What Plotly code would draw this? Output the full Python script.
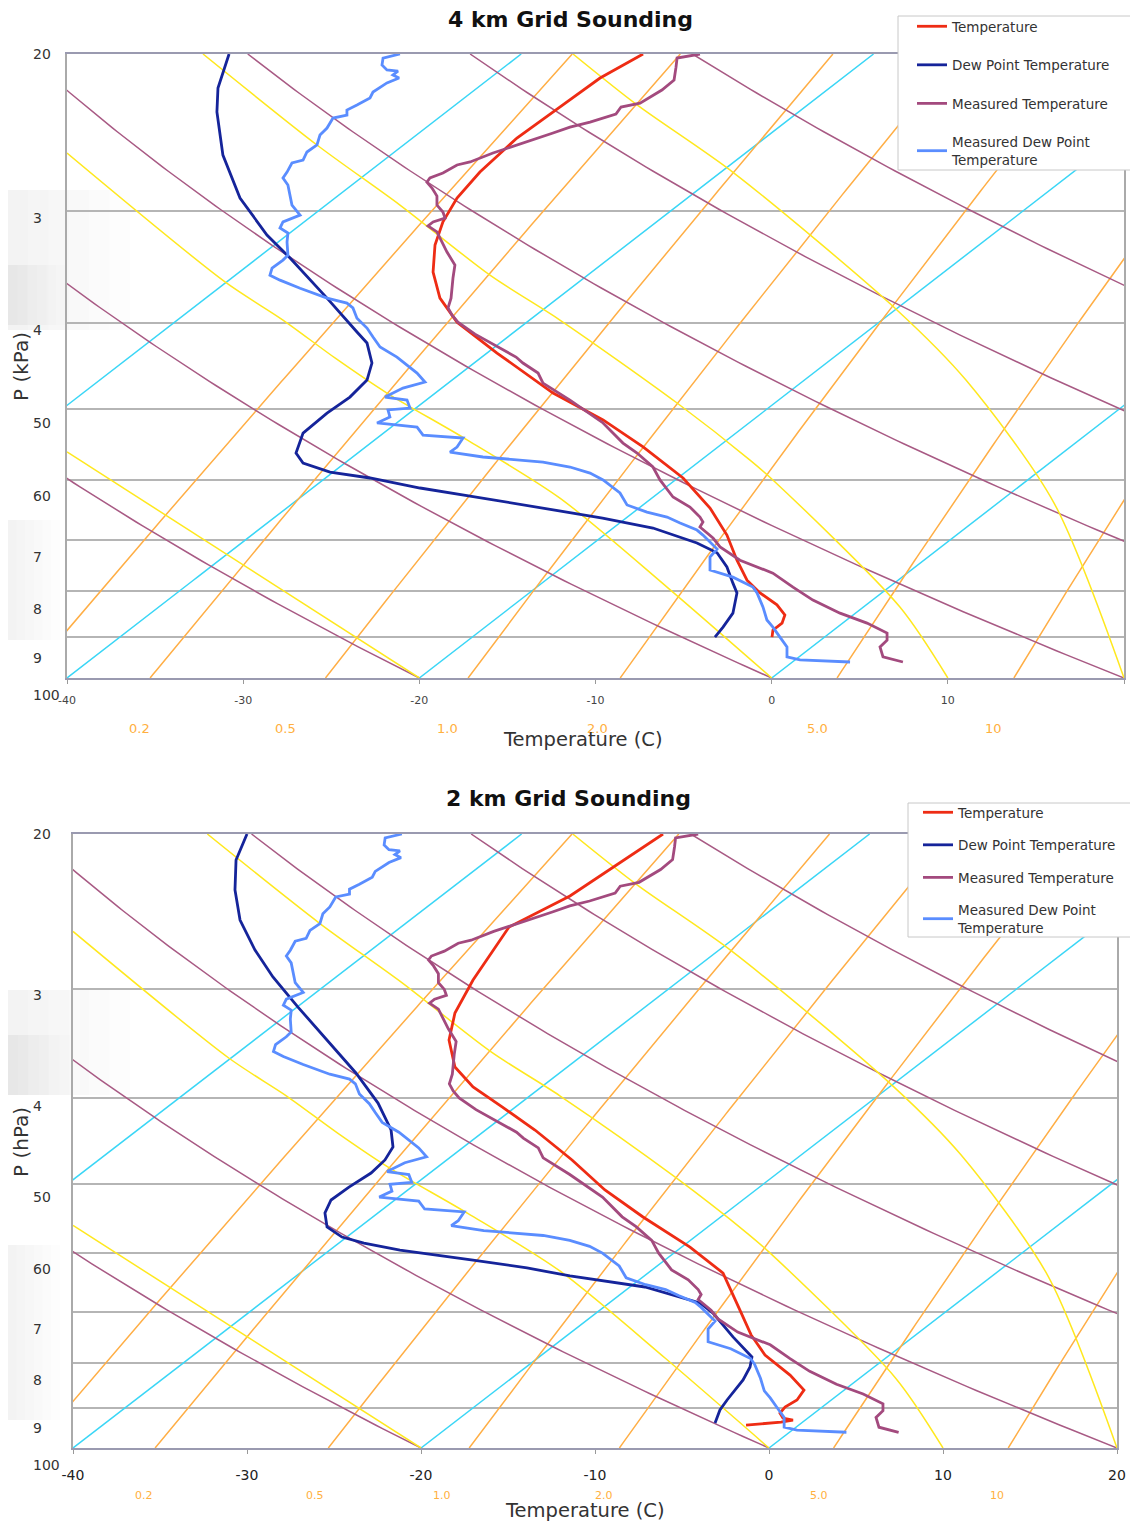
import numpy as np
import plotly.graph_objects as go

# ------------------------------------------------------------------
# DATA (x = skewed temperature as read on the chart's x axis, p in kPa)
# ------------------------------------------------------------------
# 4 km grid model
P_T4 = [20.0, 21.28, 22.81, 24.84, 27.12, 29.0, 30.84, 32.73, 35.1, 37.54, 39.94, 43.25,
        47.95, 51.4, 55.1, 59.7, 64.5, 69.17, 73.8, 77.7, 80.3, 82.8, 85.0, 86.8, 88.4, 90.0]
T4 = [-7.30, -9.74, -11.85, -14.46, -16.56, -17.86, -18.66, -19.11, -19.22, -18.83, -17.86, -15.59,
      -12.41, -9.57, -7.30, -5.03, -3.50, -2.54, -1.97, -1.40, -0.66, 0.30, 0.75, 0.59, 0.07, 0.02]
P_TD4 = [20.0, 21.83, 23.23, 25.96, 29.0, 31.9, 33.85, 37.54, 40.97, 42.15, 44.38, 46.37, 48.45,
         50.5, 53.17, 55.98, 57.44, 58.79, 59.7, 61.26, 62.54, 64.34, 66.2, 67.92, 70.6, 72.4,
         75.1, 78.3, 80.3, 84.6, 87.7, 90.0]
TD4 = [-30.8, -31.43, -31.49, -31.15, -30.18, -28.65, -27.34, -25.24, -23.54, -22.97, -22.69,
       -22.97, -23.94, -25.24, -26.6, -27.0, -26.6, -25.07, -22.8, -19.96, -17.12, -13.32, -9.6,
       -6.74, -4.24, -3.1, -2.54, -2.2, -1.97, -2.2, -2.76, -3.22]

# 2 km grid model
P_T2 = [20.0, 21.81, 23.53, 25.52, 29.33, 31.98, 34.32, 36.84, 38.82, 40.9, 43.45, 45.43, 47.0,
        50.85, 54.58, 59.06, 63.22, 69.66, 74.35, 78.36, 82.6, 85.9, 88.17, 89.81, 91.26, 92.46,
        92.95, 93.44, 94.18]
T2 = [-6.09, -8.91, -11.44, -14.94, -17.01, -18.05, -18.39, -18.05, -17.01, -15.34, -13.45, -12.24,
      -11.32, -9.43, -7.24, -4.54, -2.64, -1.67, -1.03, -0.23, 1.21, 2.01, 1.61, 0.92, 0.63, 0.80,
      1.38, 0.69, -1.32]
P_TD2 = [20.0, 21.41, 23.16, 25.06, 27.11, 29.09, 31.48, 34.32, 37.42, 40.49, 43.45, 45.43, 47.0,
         48.64, 50.46, 52.2, 54.0, 56.03, 57.53, 58.44, 59.52, 61.1, 62.37, 63.7, 65.57, 68.38,
         70.2, 74.74, 78.77, 80.86, 83.66, 88.17, 90.51, 93.68]
TD2 = [-30.0, -30.63, -30.69, -30.40, -29.54, -28.51, -27.07, -25.40, -23.74, -22.47, -21.72,
       -21.61, -22.07, -22.87, -24.14, -25.17, -25.52, -25.40, -24.54, -23.28, -21.21, -17.01,
       -13.91, -11.44, -7.13, -3.97, -3.22, -2.07, -0.98, -1.09, -1.49, -2.41, -2.82, -3.10]

# measured sounding (same in both charts)
P_MT = [20.0, 20.21, 20.69, 21.39, 21.95, 22.70, 22.93, 23.35, 23.84, 24.15, 24.52, 25.29, 25.82,
        26.42, 26.63, 27.19, 27.54, 27.83, 28.26, 28.85, 29.53, 30.06, 30.53, 30.84, 31.16, 31.65,
        32.15, 33.33, 34.46, 35.64, 37.54, 38.5, 39.21, 39.94, 41.19, 42.92, 43.70, 44.38, 45.54,
        46.74, 48.83, 51.8, 54.56, 55.98, 58.03, 60.0, 62.70, 64.34, 66.02, 66.88, 67.75, 69.7,
        71.3, 73.8, 76.3, 79.1, 81.8, 84.6, 86.8, 89.06, 90.7, 92.3, 94.7, 95.96]
MT = [-4.07, -5.37, -5.43, -5.54, -6.23, -7.47, -8.55, -8.84, -10.31, -11.45, -12.41, -14.46,
      -15.82, -17.12, -17.86, -18.66, -19.40, -19.57, -19.28, -19.00, -19.00, -18.66, -18.54,
      -19.22, -19.51, -19.00, -18.83, -18.43, -17.98, -18.09, -18.20, -18.37, -18.15, -17.81,
      -16.84, -15.25, -14.51, -14.12, -13.26, -12.98, -11.45, -9.57, -8.44, -7.64, -6.74, -6.34,
      -5.60, -4.64, -4.07, -3.90, -4.07, -3.33, -2.93, -1.80, 0.07, 1.21, 2.34, 3.88, 5.41, 6.55,
      6.55, 6.15, 6.32, 7.45]
P_MTD = [20.0, 20.21, 20.58, 20.84, 20.90, 21.11, 21.28, 21.55, 22.06, 22.40, 22.81, 23.11, 23.41,
         23.59, 24.21, 24.65, 25.29, 25.75, 26.29, 26.49, 27.12, 27.54, 28.04, 28.77, 29.53, 30.30,
         30.84, 31.33, 31.74, 32.48, 33.6, 34.03, 34.74, 35.38, 35.84, 36.59, 37.54, 38.02, 38.5,
         39.53, 40.55, 41.50, 42.59, 43.70, 44.84, 45.54, 46.61, 47.34, 48.45, 48.83, 49.84, 50.09,
         51.0, 51.8, 52.36, 53.45, 53.86, 55.12, 55.84, 56.55, 57.29, 58.03, 58.94, 60.0, 62.05,
         64.0, 65.18, 66.02, 67.06, 68.28, 69.17, 71.7, 73.2, 75.7, 77.1, 79.1, 80.3, 83.3, 86.1,
         87.7, 90.0, 92.3, 94.7, 95.45, 95.96]
MTD = [-21.10, -22.06, -22.12, -21.84, -21.21, -21.50, -21.15, -21.84, -22.63, -22.80, -23.54,
       -24.11, -24.11, -24.90, -25.24, -25.64, -25.81, -26.38, -26.60, -27.23, -27.51, -27.74,
       -27.46, -27.34, -27.23, -26.77, -27.74, -27.91, -27.46, -27.51, -27.46, -27.74, -28.36,
       -28.48, -27.91, -26.77, -25.24, -24.11, -23.77, -23.54, -22.97, -22.63, -22.23, -21.27,
       -20.53, -20.13, -19.68, -20.93, -21.95, -20.70, -20.53, -21.78, -21.67, -22.40, -20.13,
       -19.79, -17.52, -17.86, -18.26, -16.39, -12.98, -11.45, -10.31, -9.57, -8.61, -8.21, -7.08,
       -5.94, -5.20, -4.24, -3.90, -3.10, -3.50, -3.50, -2.20, -1.06, -0.83, -0.49, -0.27, 0.07,
       0.47, 0.87, 0.87, 1.61, 4.45]

# background diagram parameters
SKEW = 65.5                                   # x shift per decade of pressure
ISOTHERMS = [-60, -40, -20, 0]                # deg C
DRY_ADIABAT_BASES = [-20, 0, 20, 40, 60, 80]  # deg C at 100 kPa
MIXING_RATIOS = [0.1, 0.2, 0.5, 1.0, 2.0, 5.0, 10.0]  # g/kg
MIXING_LABELS = ["0.2", "0.5", "1.0", "2.0", "5.0", "10"]
# moist adiabats
MOIST_P = {
    -20: [55.8, 100.0],
    0: [25.82, 36.0, 39.72, 43.8, 47.95, 54.1, 62.87, 79.1, 100.0],
    10: [20.0, 25.29, 29.53, 35.38, 39.72, 49.2, 57.0, 60.0, 83.27, 100.0],
    20: [20.0, 22.81, 27.19, 38.7, 46.37, 63.68, 100.0],
}
MOIST_X = {
    -20: [-40.0, -20.0],
    0: [-40.0, -31.03, -27.74, -24.79, -21.84, -17.29, -12.02, -5.94, 0.0],
    10: [-32.28, -25.81, -21.10, -15.99, -12.02, -5.37, -1.23, 0.07, 7.28, 10.0],
    20: [-11.28, -7.64, -2.14, 7.11, 11.03, 16.03, 20.0],
}

X_TICKS = [-40, -30, -20, -10, 0, 10, 20]
X_TICK_TEXT = ["-40", "-30", "-20", "-10", "0", "10", "20"]
GRID_P = [30, 40, 50, 60, 70, 80, 90]
Y_LABELS = ["20", "3", "4", "50", "60", "7", "8", "9", "100"]
Y_LABEL_P = [20.0, 30.5, 40.8, 51.8, 62.5, 73.2, 83.7, 95.0, 104.5]

# ------------------------------------------------------------------
W, H = 1122, 1513
OFF = 8
FONT = "DejaVu Sans"


def fx(x):
    return (x - OFF) / W


def fy(y):
    return 1 - (y - OFF) / H


PANELS = [
    dict(x0=67, x1=1124, y0=54, y1=678, xa="x", ya="y", lg="legend",
         title="4 km Grid Sounding", title_x=570, title_y=20, ytitle="P (kPa)", ytitle_y=367,
         xtitle_x=583, xtitle_y=740, mix_y=729, tick_size=11, tick_color="#444", standoff=7,
         mix_size=13, mix_x=[-35.9, -27.6, -18.4, -9.9, 2.6, 12.6],
         T=(P_T4, T4), TD=(P_TD4, TD4),
         box=(898, 16, 1132, 170), leg_x=912, leg_y=11, gap=18.0),
    dict(x0=73, x1=1117, y0=834, y1=1448, xa="x2", ya="y2", lg="legend2",
         title="2 km Grid Sounding", title_x=568, title_y=798, ytitle="P (hPa)", ytitle_y=1142,
         xtitle_x=585, xtitle_y=1510, mix_y=1495, tick_size=14, tick_color="#222", standoff=9,
         mix_size=11, mix_x=[-35.9, -26.1, -18.8, -9.5, 2.9, 13.1],
         T=(P_T2, T2), TD=(P_TD2, TD2),
         box=(908, 803, 1132, 937), leg_x=918, leg_y=797, gap=12.0),
]

P_GRID = np.logspace(np.log10(20.0), 2.0, 161)
SK = SKEW * np.log10(100.0 / P_GRID)

C_ISO, C_DRY, C_MIX, C_MOIST = "#3AD6F6", "#A85A84", "#FFAE45", "#FFE81E"
LW = 1.5

fig = go.Figure()
annotations = []
shapes = []

for i, pn in enumerate(PANELS):
    xa, ya = pn["xa"], pn["ya"]
    bg = dict(xaxis=xa, yaxis=ya, mode="lines", showlegend=False, hoverinfo="skip")
    for t in ISOTHERMS:
        fig.add_trace(go.Scatter(x=t + SK, y=P_GRID, line=dict(color=C_ISO, width=LW), **bg))
    for w in MIXING_RATIOS:
        e = w * P_GRID * 10.0 / (622.0 + w)
        tk = 1.0 / (1.0 / 273.15 - np.log(e / 6.11) / 5423.0) - 273.15
        fig.add_trace(go.Scatter(x=tk + SK, y=P_GRID, line=dict(color=C_MIX, width=LW), **bg))
    for tb in DRY_ADIABAT_BASES:
        tk = (tb + 273.15) * (P_GRID / 100.0) ** 0.286 - 273.15
        fig.add_trace(go.Scatter(x=tk + SK, y=P_GRID, line=dict(color=C_DRY, width=LW), **bg))
    for k in MOIST_P:
        fig.add_trace(go.Scatter(x=MOIST_X[k], y=MOIST_P[k], line=dict(color=C_MOIST, width=LW,
                                 shape="spline", smoothing=0.8), **bg))

    series = [
        ("Temperature", pn["T"], "#EE2C14"),
        ("Dew Point Temperature", pn["TD"], "#15249A"),
        ("Measured Temperature", (P_MT, MT), "#A34A7E"),
        ("Measured Dew Point<br>Temperature", (P_MTD, MTD), "#5A8DFF"),
    ]
    for j, (name, (pp, tt), col) in enumerate(series):
        fig.add_trace(go.Scatter(x=tt, y=pp, xaxis=xa, yaxis=ya, mode="lines", name=name,
                                 legend=pn["lg"], legendgroup=f"g{i}{j}",
                                 line=dict(color=col, width=2.8)))

    # axes
    xk = "xaxis" if i == 0 else "xaxis2"
    yk = "yaxis" if i == 0 else "yaxis2"
    fig.layout[xk] = dict(domain=[fx(pn["x0"]), fx(pn["x1"])], anchor=ya, range=[-40, 20],
                          tickvals=X_TICKS, ticktext=X_TICK_TEXT, showgrid=False, zeroline=False,
                          showline=True, linecolor="#9A9AB0", linewidth=1.5, mirror=True,
                          ticks="outside", ticklen=4, tickcolor="#999",
                          ticklabelstandoff=pn["standoff"],
                          tickfont=dict(family=FONT, size=pn["tick_size"], color=pn["tick_color"]),
                          fixedrange=True)
    fig.layout[yk] = dict(domain=[fy(pn["y1"]), fy(pn["y0"])], anchor=xa, type="log",
                          range=[2.0, np.log10(20.0)], tickvals=GRID_P, showticklabels=False,
                          showgrid=True, gridcolor="#B5B5B5", gridwidth=2, zeroline=False,
                          showline=True, linecolor="#AAAAAA", linewidth=1.5, mirror=True,
                          ticks="", fixedrange=True)

    # y labels (placed relative to the y axis domain so the 100 label can sit below it)
    lo, hi = 2.0, np.log10(20.0)
    for lab, p in zip(Y_LABELS, Y_LABEL_P):
        annotations.append(dict(text=lab, xref="paper", yref=f"{ya} domain", x=fx(31),
                                y=(np.log10(p) - lo) / (hi - lo),
                                xanchor="left", yanchor="middle", showarrow=False,
                                font=dict(family=FONT, size=14, color="#333")))
    # mixing ratio labels
    for xm, lab in zip(pn["mix_x"], MIXING_LABELS):
        annotations.append(dict(text=lab, xref=xa, yref="paper", x=xm, y=fy(pn["mix_y"]),
                                xanchor="center", yanchor="middle", showarrow=False,
                                font=dict(family=FONT, size=pn["mix_size"], color="#FFB040")))
    # titles
    annotations.append(dict(text="<b>" + pn["title"] + "</b>", xref="paper", yref="paper",
                            x=fx(pn["title_x"]), y=fy(pn["title_y"]), xanchor="center",
                            yanchor="middle", showarrow=False,
                            font=dict(family=FONT, size=22, color="#111")))
    annotations.append(dict(text=pn["ytitle"], xref="paper", yref="paper", x=fx(21),
                            y=fy(pn["ytitle_y"]), xanchor="center", yanchor="middle",
                            textangle=-90, showarrow=False,
                            font=dict(family=FONT, size=20, color="#333")))
    annotations.append(dict(text="Temperature (C)", xref="paper", yref="paper",
                            x=fx(pn["xtitle_x"]), y=fy(pn["xtitle_y"]), xanchor="center",
                            yanchor="middle", showarrow=False,
                            font=dict(family=FONT, size=19.5, color="#333")))

    # legend frame
    bx0, by0, bx1, by1 = pn["box"]
    shapes.append(dict(type="rect", xref="paper", yref="paper", x0=fx(bx0), x1=fx(bx1),
                       y0=fy(by1), y1=fy(by0), fillcolor="white",
                       line=dict(color="#C8C8C8", width=1), layer="above"))
    fig.layout[pn["lg"]] = dict(x=fx(pn["leg_x"]), y=fy(pn["leg_y"]), xanchor="left",
                                yanchor="top", bgcolor="rgba(0,0,0,0)", borderwidth=0,
                                traceorder="grouped", tracegroupgap=pn["gap"],
                                itemwidth=30, font=dict(family=FONT, size=13.5, color="#333"))

# faint soft grey shading in the left margin, as in the original image
for (ya0, ya1, xr) in [(190, 330, 130), (265, 325, 66), (520, 640, 60),
                       (990, 1095, 130), (1035, 1095, 70), (1245, 1420, 60)]:
    for step in range(6):
        shapes.append(dict(type="rect", xref="paper", yref="paper", x0=fx(8),
                           x1=fx(8 + (xr - 8) * (step + 1) / 6.0),
                           y0=fy(ya1), y1=fy(ya0), fillcolor="rgba(0,0,0,0.009)",
                           line=dict(width=0), layer="below"))

fig.update_layout(width=W, height=H, margin=dict(l=0, r=0, t=0, b=0, autoexpand=False),
                  paper_bgcolor="white", plot_bgcolor="white", template="none",
                  annotations=annotations, shapes=shapes, showlegend=True)

fig.write_html("out.html")
